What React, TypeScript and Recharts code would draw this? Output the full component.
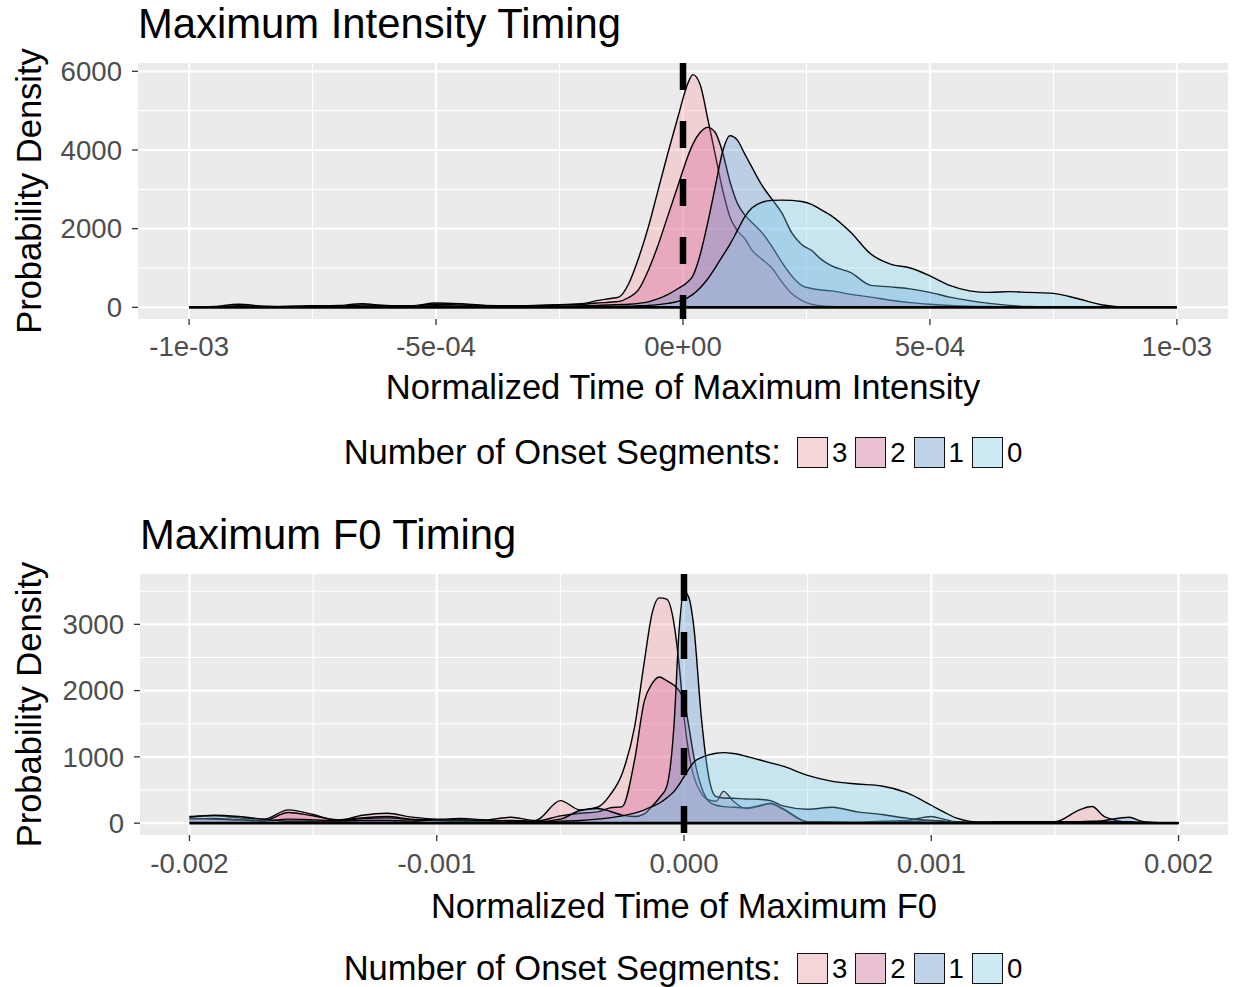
import React from 'react';
import { ComposedChart, Area, XAxis, YAxis, CartesianGrid, ReferenceLine, Legend } from 'recharts';

const FONT = '"Liberation Sans", Arial, Helvetica, sans-serif';

// groups (legend order = drawing order)
const groupNames = ['3', '2', '1', '0'];
const groupKeys = ['s3', 's2', 's1', 's0'];
const groupFills = ['#F9919B', '#D74B8B', '#4B8BD1', '#77D7F9'];

// --- Maximum Intensity Timing ---
const intensityX = [
  -1e-3, -9.5e-4, -9e-4, -8.5e-4, -8e-4, -7.5e-4, -7e-4, -6.5e-4, -6e-4, -5.5e-4,
  -5e-4, -4.5e-4, -4e-4, -3.5e-4, -3e-4, -2.5e-4, -2e-4, -1.75e-4, -1.5e-4, -1.3e-4,
  -1.1e-4, -9e-5, -7e-5, -5e-5, -3e-5, -1e-5, 1e-5, 2e-5, 3.5e-5, 5e-5,
  6.5e-5, 8e-5, 9.5e-5, 1.1e-4, 1.25e-4, 1.4e-4, 1.6e-4, 1.8e-4, 2e-4, 2.2e-4,
  2.4e-4, 2.6e-4, 2.8e-4, 3e-4, 3.4e-4, 3.8e-4, 4.2e-4, 4.6e-4, 5e-4, 5.4e-4,
  5.8e-4, 6.2e-4, 6.6e-4, 7e-4, 7.5e-4, 8e-4, 8.5e-4, 9e-4, 9.5e-4, 1e-3,
];
const intensity3 = [
  0, 20, 80, 30, 15, 30, 40, 90, 40, 40,
  110, 90, 50, 40, 50, 70, 100, 170, 220, 260,
  600, 1250, 2050, 3000, 3950, 4850, 5700, 5915, 5650, 4800,
  3900, 3000, 2300, 1950, 1750, 1450, 1220, 1000, 650, 350,
  180, 80, 40, 20, 10, 5, 0, 0, 0, 0,
  0, 0, 0, 0, 0, 0, 0, 0, 0, 0,
];
const intensity2 = [
  0, 10, 40, 20, 30, 40, 30, 60, 50, 30,
  80, 60, 40, 30, 40, 60, 80, 110, 130, 150,
  250, 450, 950, 1600, 2350, 3100, 3850, 4150, 4450, 4575,
  4450, 3950, 3200, 2650, 2350, 2150, 1900, 1550, 1150, 800,
  560, 480, 440, 420, 330, 260, 180, 120, 80, 50,
  30, 20, 10, 5, 0, 0, 0, 0, 0, 0,
];
const intensity1 = [
  0, 0, 10, 5, 10, 20, 50, 20, 30, 20,
  40, 30, 20, 20, 25, 30, 40, 50, 60, 70,
  80, 100, 140, 220, 330, 480, 650, 800, 1350, 2150,
  3050, 3950, 4360, 4250, 3900, 3550, 3100, 2750, 2400, 1900,
  1600, 1450, 1220, 1060, 880, 560, 520, 470, 380, 260,
  170, 100, 50, 20, 10, 0, 0, 0, 0, 0,
];
const intensity0 = [
  0, 0, 0, 0, 5, 10, 10, 5, 5, 5,
  10, 10, 5, 5, 10, 10, 15, 20, 20, 25,
  30, 40, 50, 70, 100, 150, 250, 330, 500, 720,
  1000, 1300, 1600, 1950, 2300, 2530, 2670, 2720, 2725, 2720,
  2690, 2620, 2480, 2330, 1900, 1360, 1100, 1000, 800, 560,
  420, 380, 400, 380, 355, 220, 60, 5, 0, 0,
];
const intensityXTicks = [-1e-3, -5e-4, 0, 5e-4, 1e-3];
const intensityXLabels = ['-1e-03', '-5e-04', '0e+00', '5e-04', '1e-03'];
const intensityXMinor = [-7.5e-4, -2.5e-4, 2.5e-4, 7.5e-4];
const intensityYTicks = [0, 2000, 4000, 6000];
const intensityYMinor = [1000, 3000, 5000];

// --- Maximum F0 Timing ---
const f0X = [
  -2e-3, -1.9e-3, -1.8e-3, -1.7e-3, -1.6e-3, -1.5e-3, -1.4e-3, -1.3e-3, -1.2e-3, -1.1e-3,
  -1e-3, -9e-4, -8e-4, -7e-4, -6e-4, -5e-4, -4.2e-4, -3.5e-4, -3e-4, -2.5e-4,
  -2e-4, -1.6e-4, -1.3e-4, -1e-4, -7e-5, -4e-5, -2e-5, 0, 2e-5, 4e-5,
  7e-5, 1e-4, 1.3e-4, 1.6e-4, 2e-4, 2.5e-4, 3e-4, 3.5e-4, 4e-4, 5e-4,
  6e-4, 7e-4, 8e-4, 9e-4, 1e-3, 1.05e-3, 1.1e-3, 1.2e-3, 1.3e-3, 1.4e-3,
  1.5e-3, 1.6e-3, 1.65e-3, 1.7e-3, 1.8e-3, 1.85e-3, 1.9e-3, 2e-3,
];
const f03 = [
  100, 110, 80, 60, 200, 130, 40, 120, 150, 90,
  60, 70, 50, 90, 40, 340, 200, 240, 420, 750,
  1450, 2450, 3150, 3400, 3380, 3000, 2400, 1600, 1050, 700,
  450, 350, 330, 480, 330, 220, 250, 290, 220, 20,
  15, 10, 30, 40, 100, 60, 20, 10, 20, 20,
  20, 200, 250, 100, 15, 10, 5, 0,
];
const f02 = [
  60, 70, 50, 40, 160, 110, 50, 80, 100, 60,
  50, 40, 30, 40, 30, 110, 150, 170, 230, 250,
  950, 1850, 2100, 2205, 2150, 2080, 2000, 1850, 1450, 1000,
  550, 330, 270, 250, 240, 230, 260, 300, 210, 20,
  15, 10, 10, 20, 40, 30, 15, 10, 15, 15,
  10, 20, 30, 20, 10, 5, 5, 0,
];
const f01 = [
  80, 60, 50, 30, 60, 50, 40, 70, 80, 50,
  40, 30, 40, 30, 20, 60, 190, 220, 180, 120,
  100, 140, 250, 380, 550, 1500, 2900, 3500, 3400, 2950,
  1600, 700, 400, 380, 375, 365, 360, 340, 260, 210,
  240, 170, 130, 75, 40, 25, 15, 10, 20, 20,
  20, 20, 20, 40, 90, 30, 10, 0,
];
const f00 = [
  90, 120, 100, 60, 30, 30, 30, 40, 40, 30,
  50, 50, 40, 30, 20, 30, 40, 60, 80, 110,
  150, 200, 250, 300, 380, 480, 580, 700, 820, 920,
  990, 1030, 1055, 1064, 1050, 1010, 960, 910, 860, 720,
  630, 590, 560, 460, 270, 170, 80, 15, 15, 20,
  15, 15, 15, 15, 20, 10, 5, 0,
];
const f0XTicks = [-2e-3, -1e-3, 0, 1e-3, 2e-3];
const f0XLabels = ['-0.002', '-0.001', '0.000', '0.001', '0.002'];
const f0XMinor = [-1.5e-3, -5e-4, 5e-4, 1.5e-3];
const f0YTicks = [0, 1000, 2000, 3000];
const f0YMinor = [500, 1500, 2500, 3500];

const intensityRows = intensityX.map((x, i) => ({
  x, s3: intensity3[i], s2: intensity2[i], s1: intensity1[i], s0: intensity0[i],
}));
const f0Rows = f0X.map((x, i) => ({
  x, s3: f03[i], s2: f02[i], s1: f01[i], s0: f00[i],
}));

function OnsetLegend() {
  return (
    <div style={{ display: 'flex', alignItems: 'center', justifyContent: 'center', height: 31, fontFamily: FONT, color: '#000', boxSizing: 'border-box', paddingLeft: 133 }}>
      <span style={{ fontSize: 34.5, marginRight: 16, whiteSpace: 'nowrap' }}>Number of Onset Segments:</span>
      {groupNames.map((g, i) => (
        <span key={g} style={{ display: 'flex', alignItems: 'center', marginRight: i < groupNames.length - 1 ? 8 : 0 }}>
          <span
            style={{
              width: 31, height: 31, boxSizing: 'border-box', border: '1.4px solid #111',
              backgroundColor: '#F2F2F2',
              backgroundImage: `linear-gradient(${groupFills[i]}4D, ${groupFills[i]}4D)`,
            }}
          />
          <span style={{ fontSize: 27.6, marginLeft: 4 }}>{g}</span>
        </span>
      ))}
    </div>
  );
}

type PanelProps = {
  rows: any[];
  height: number;
  top: number;
  yAxisWidth: number;
  xAxisHeight: number;
  xDomain: number[];
  yDomain: number[];
  xTicks: number[];
  xLabels: string[];
  xMinor: number[];
  yTicks: number[];
  yMinor: number[];
  xTitle: string;
  xTitleOffset: number;
  xTickMargin: number;
  legendTop: number;
};

function DensityPanel(p: PanelProps) {
  const xMin = p.rows[0].x;
  const xMax = p.rows[p.rows.length - 1].x;
  return (
    <ComposedChart
      width={1233}
      height={p.height}
      data={p.rows}
      margin={{ top: p.top, right: 5, bottom: 0, left: 0 }}
      style={{ fontFamily: FONT }}
    >
      <CartesianGrid fill="#EBEBEB" stroke="#FFFFFF" strokeWidth={1.1} horizontalValues={p.yMinor} verticalValues={p.xMinor} />
      <CartesianGrid stroke="#FFFFFF" strokeWidth={2.2} horizontalValues={p.yTicks} verticalValues={p.xTicks} />
      {groupKeys.map((k, i) => (
        <Area
          key={k}
          dataKey={k}
          name={groupNames[i]}
          type="monotone"
          baseValue={0}
          fill={groupFills[i]}
          fillOpacity={0.3}
          stroke="#000"
          strokeWidth={1.4}
          dot={false}
          activeDot={false}
          isAnimationActive={false}
        />
      ))}
      <ReferenceLine segment={[{ x: xMin, y: 0 }, { x: xMax, y: 0 }]} stroke="#000" strokeWidth={2.6} />
      <ReferenceLine
        segment={[{ x: 0, y: p.yDomain[1] }, { x: 0, y: p.yDomain[0] }]}
        stroke="#000"
        strokeWidth={6.5}
        strokeDasharray="27 31"
      />
      <XAxis
        dataKey="x"
        type="number"
        domain={p.xDomain}
        ticks={p.xTicks}
        interval={0}
        allowDataOverflow
        tickFormatter={(v: number) => p.xLabels[p.xTicks.indexOf(v)] ?? String(v)}
        axisLine={false}
        tickLine={{ stroke: '#333333', strokeWidth: 1.3 }}
        tickSize={6}
        tickMargin={p.xTickMargin}
        tick={{ fill: '#4D4D4D', fontSize: 27.6, fontFamily: FONT }}
        height={p.xAxisHeight}
        label={{ value: p.xTitle, position: 'insideBottom', offset: p.xTitleOffset, style: { fontSize: 34.5, fill: '#000', fontFamily: FONT } }}
      />
      <YAxis
        type="number"
        domain={p.yDomain}
        ticks={p.yTicks}
        interval={0}
        allowDataOverflow
        axisLine={false}
        tickLine={{ stroke: '#333333', strokeWidth: 1.3 }}
        tickSize={6}
        tickMargin={10}
        tick={{ fill: '#4D4D4D', fontSize: 27.6, fontFamily: FONT }}
        width={p.yAxisWidth}
        label={{ value: 'Probability Density', angle: -90, position: 'insideLeft', offset: 28.5, style: { textAnchor: 'middle', fontSize: 34.5, fill: '#000', fontFamily: FONT } }}
      />
      <Legend
        layout="horizontal"
        verticalAlign="middle"
        align="center"
        content={() => <OnsetLegend />}
        wrapperStyle={{ top: p.legendTop, left: 0, width: 1233 }}
      />
    </ComposedChart>
  );
}

export default function App() {
  return (
    <div style={{ position: 'absolute', left: 0, top: 0, width: 1233, height: 987, background: '#fff', fontFamily: FONT }}>
      <div style={{ position: 'absolute', left: 0, top: 0 }}>
        <DensityPanel
          rows={intensityRows}
          height={480}
          top={63}
          yAxisWidth={138}
          xAxisHeight={161}
          xDomain={[-1.1035e-3, 1.1035e-3]}
          yDomain={[-296, 6211]}
          xTicks={intensityXTicks}
          xLabels={intensityXLabels}
          xMinor={intensityXMinor}
          yTicks={intensityYTicks}
          yMinor={intensityYMinor}
          xTitle="Normalized Time of Maximum Intensity"
          xTitleOffset={81}
          xTickMargin={11.5}
          legendTop={437}
        />
      </div>
      <div style={{ position: 'absolute', left: 0, top: 480 }}>
        <DensityPanel
          rows={f0Rows}
          height={507}
          top={94}
          yAxisWidth={140}
          xAxisHeight={152}
          xDomain={[-2.2e-3, 2.2e-3]}
          yDomain={[-179, 3760]}
          xTicks={f0XTicks}
          xLabels={f0XLabels}
          xMinor={f0XMinor}
          yTicks={f0YTicks}
          yMinor={f0YMinor}
          xTitle="Normalized Time of Maximum F0"
          xTitleOffset={69}
          xTickMargin={12}
          legendTop={473}
        />
      </div>
      <svg width={1233} height={987} style={{ position: 'absolute', left: 0, top: 0, pointerEvents: 'none' }}>
        <text x={138} y={38} fontSize={41.8} fontFamily={FONT} fill="#000">Maximum Intensity Timing</text>
        <text x={140} y={549} fontSize={41.8} fontFamily={FONT} fill="#000">Maximum F0 Timing</text>
      </svg>
    </div>
  );
}
